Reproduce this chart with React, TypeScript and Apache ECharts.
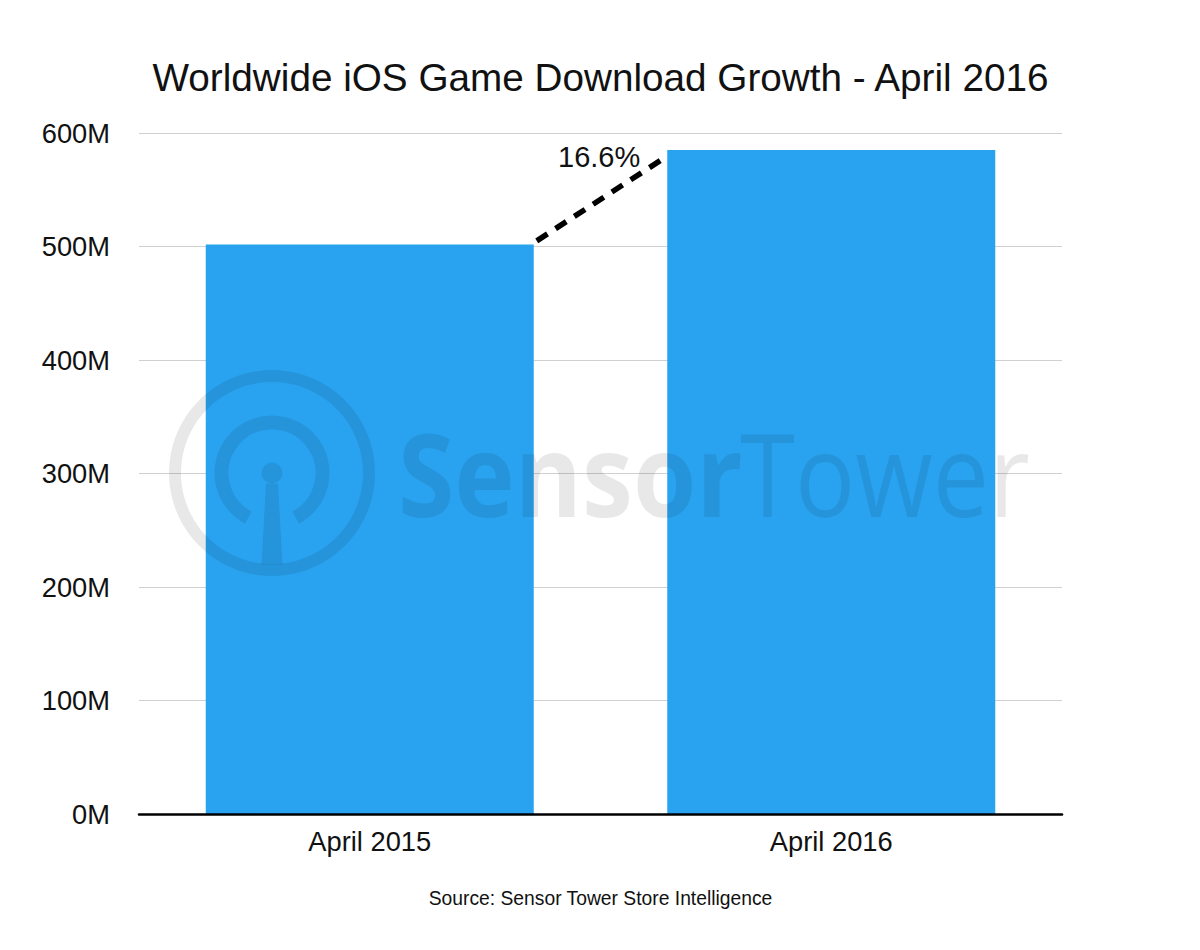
import React, { useEffect, useRef } from 'react';
import * as echarts from 'echarts';

const categories = ['April 2015', 'April 2016'];
const downloads = [501.8, 585];
// value heights where the dashed growth line starts and ends
const growthLine = [505, 578];
const growthLabel = '16.6%';

const FONT = '"Liberation Sans", Arial, sans-serif';
const BAR_WIDTH = 328;
const WATERMARK = 'rgba(0, 0, 0, 0.09)';
const WM_Z = 100;

const App: React.FC = () => {
  const chartRef = useRef<HTMLDivElement>(null);

  useEffect(() => {
    if (!chartRef.current) return;

    const myChart = echarts.init(chartRef.current, undefined, { renderer: 'svg' });

    const option: any = {
      animation: false,
      backgroundColor: '#ffffff',
      title: [
        {
          text: 'Worldwide iOS Game Download Growth - April 2016',
          left: 595.5,
          top: 53,
          textAlign: 'center',
          textStyle: { fontFamily: FONT, fontSize: 38.7, fontWeight: 'normal', color: '#111111' }
        },
        {
          text: 'Source: Sensor Tower Store Intelligence',
          left: 595.5,
          top: 884,
          textAlign: 'center',
          textStyle: { fontFamily: FONT, fontSize: 19.3, fontWeight: 'normal', color: '#111111' }
        }
      ],
      grid: { left: 139, right: 138, top: 133, bottom: 136 },
      xAxis: {
        type: 'category',
        data: categories,
        axisTick: { show: false },
        axisLine: { lineStyle: { color: '#000000', width: 2.5 } },
        axisLabel: { fontFamily: FONT, fontSize: 27.3, color: '#111111', margin: 14 },
        z: 5
      },
      yAxis: {
        type: 'value',
        min: 0,
        max: 600,
        interval: 100,
        axisLine: { show: false },
        axisTick: { show: false },
        splitLine: { lineStyle: { color: '#d0d0d0', width: 1 } },
        axisLabel: { fontFamily: FONT, fontSize: 27.3, color: '#111111', margin: 29, formatter: '{value}M' }
      },
      series: [
        {
          type: 'bar',
          data: downloads,
          barWidth: BAR_WIDTH,
          itemStyle: { color: '#29A3F0' }
        },
        {
          type: 'custom',
          data: [[0, growthLine[0], 1, growthLine[1]]],
          encode: { x: [0, 2], y: [1, 3] },
          silent: true,
          z: 6,
          renderItem: (_params: any, api: any) => {
            const start = api.coord([api.value(0), api.value(1)]);
            const end = api.coord([api.value(2), api.value(3)]);
            const x1 = start[0] + BAR_WIDTH / 2 + 3;
            const x2 = end[0] - BAR_WIDTH / 2 - 3;
            return {
              type: 'group',
              children: [
                {
                  type: 'line',
                  shape: { x1, y1: start[1], x2, y2: end[1] },
                  style: { stroke: '#000000', lineWidth: 5.5, lineDash: [12.8, 9.6] }
                },
                {
                  type: 'text',
                  x: x2 - 24,
                  y: end[1] - 0.5,
                  style: {
                    text: growthLabel,
                    font: `29px ${FONT}`,
                    fill: '#111111',
                    align: 'right',
                    verticalAlign: 'middle'
                  }
                }
              ]
            };
          }
        }
      ],
      graphic: [
        { type: 'ring', z: WM_Z, silent: true, shape: { cx: 272, cy: 473, r: 103, r0: 91 }, style: { fill: WATERMARK } },
        {
          type: 'arc',
          z: WM_Z,
          silent: true,
          shape: {
            cx: 272,
            cy: 473,
            r: 50.5,
            startAngle: (118 * Math.PI) / 180,
            endAngle: (422 * Math.PI) / 180,
            clockwise: true
          },
          style: { stroke: WATERMARK, fill: 'none', lineWidth: 14 }
        },
        { type: 'circle', z: WM_Z, silent: true, shape: { cx: 272, cy: 473, r: 10.5 }, style: { fill: WATERMARK } },
        {
          type: 'polygon',
          z: WM_Z,
          silent: true,
          shape: { points: [[266, 483.5], [278, 483.5], [282.5, 564.5], [261.5, 564.5]] },
          style: { fill: WATERMARK }
        },
        {
          type: 'text',
          z: WM_Z,
          silent: true,
          x: 398,
          y: 473,
          scaleX: 0.89,
          style: {
            text: 'Sensor',
            font: 'bold 115px "Open Sans", sans-serif',
            fill: WATERMARK,
            verticalAlign: 'middle'
          }
        },
        {
          type: 'text',
          z: WM_Z,
          silent: true,
          x: 740,
          y: 473,
          scaleX: 0.87,
          style: {
            text: 'Tower',
            font: '115px "Open Sans", sans-serif',
            fill: WATERMARK,
            verticalAlign: 'middle'
          }
        }
      ]
    };

    myChart.setOption(option);

    return () => {
      myChart.dispose();
    };
  }, []);

  return (
    <div
      ref={chartRef}
      style={{ position: 'absolute', left: 0, top: 0, width: '1200px', height: '950px' }}
    />
  );
};

export default App;
